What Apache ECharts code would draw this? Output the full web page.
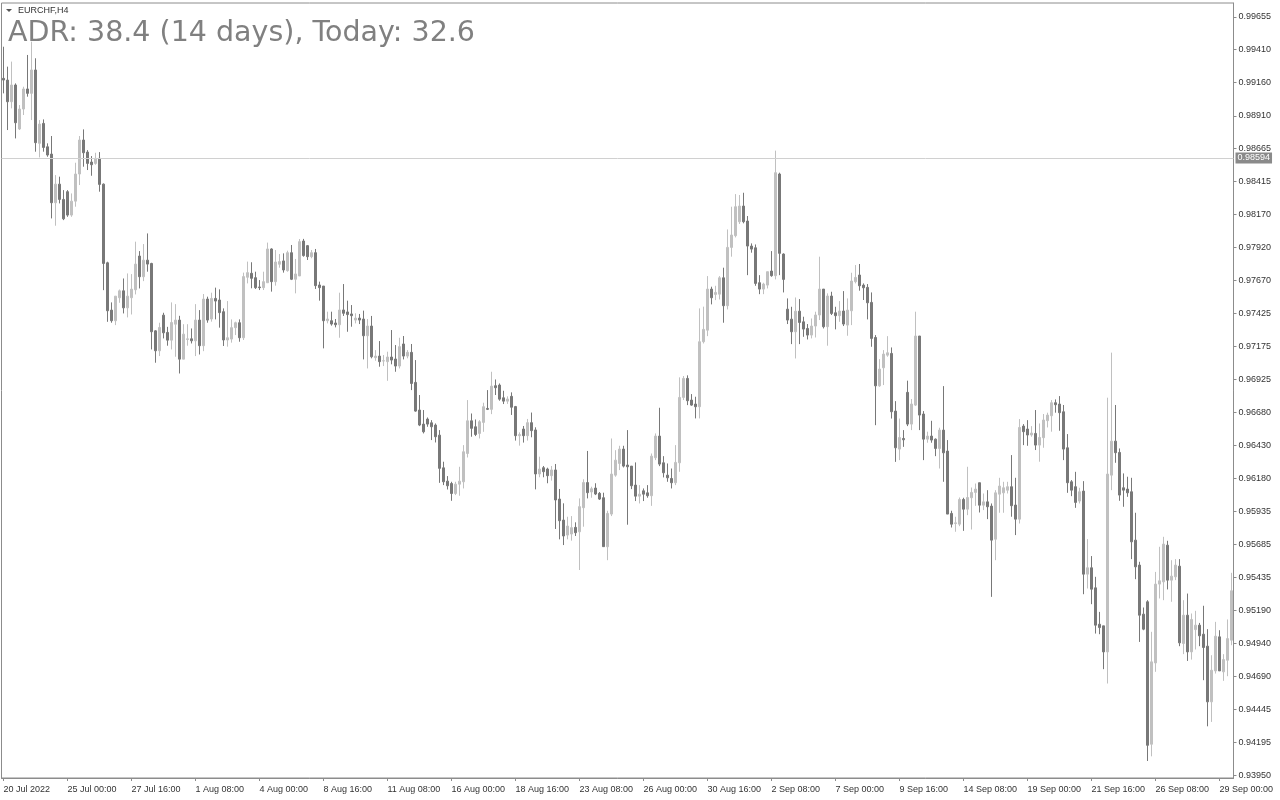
<!DOCTYPE html>
<html>
<head>
<meta charset="utf-8">
<script src="https://cdn.jsdelivr.net/npm/echarts@6/dist/echarts.min.js"></script>
<style>
html,body{margin:0;padding:0;background:#fff;}
#chart{width:1280px;height:800px;}
</style>
</head>
<body>
<div id="chart"></div>
<script>
const symbolName = 'EURCHF,H4';
const titleText = 'ADR: 38.4 (14 days), Today: 32.6';
const hLinePrice = 0.98594;

const xTickLabels = ['20 Jul 2022','25 Jul 00:00','27 Jul 16:00','1 Aug 08:00','4 Aug 00:00','8 Aug 16:00','11 Aug 08:00','16 Aug 00:00','18 Aug 16:00','23 Aug 08:00','26 Aug 00:00','30 Aug 16:00','2 Sep 08:00','7 Sep 00:00','9 Sep 16:00','14 Sep 08:00','19 Sep 00:00','21 Sep 16:00','26 Sep 08:00','29 Sep 00:00'];

const yTickValues = [0.99655,0.99410,0.99160,0.98910,0.98665,0.98415,0.98170,0.97920,0.97670,0.97425,0.97175,0.96925,0.96680,0.96430,0.96180,0.95935,0.95685,0.95435,0.95190,0.94940,0.94690,0.94445,0.94195,0.93950];

const opens = [
0.99193,0.99180,0.99017,0.99143,0.98812,0.98962,0.99113,0.99080,0.99256,0.98704,
0.98854,0.98678,0.98623,0.98257,0.98397,0.98282,0.98340,0.98164,0.98269,0.98473,
0.98729,0.98638,0.98563,0.98553,0.98591,0.98397,0.97805,0.97449,0.97369,0.97542,
0.97594,0.97466,0.97542,0.97602,0.97856,0.97700,0.97825,0.97800,0.97293,0.97143,
0.97411,0.97281,0.97223,0.97343,0.97374,0.97080,0.97228,0.97233,0.97218,0.97374,
0.97181,0.97532,0.97382,0.97537,0.97525,0.97437,0.97224,0.97231,0.97317,0.97354,
0.97241,0.97696,0.97726,0.97693,0.97623,0.97618,0.97655,0.97909,0.97663,0.97794,
0.97819,0.97746,0.97881,0.97681,0.97706,0.97969,0.97934,0.97851,0.97881,0.97638,
0.97630,0.97369,0.97369,0.97352,0.97339,0.97450,0.97435,0.97420,0.97374,0.97389,
0.97382,0.97256,0.97329,0.97091,0.97103,0.97066,0.97061,0.97096,0.97081,0.97028,
0.97194,0.97103,0.97131,0.96905,0.96697,0.96591,0.96629,0.96601,0.96584,0.96508,
0.96262,0.96162,0.96144,0.96069,0.96139,0.96157,0.96370,0.96616,0.96571,0.96521,
0.96604,0.96709,0.96702,0.96880,0.96885,0.96789,0.96764,0.96800,0.96723,0.96504,
0.96554,0.96504,0.96602,0.96547,0.96216,0.96263,0.96253,0.96203,0.96246,0.96027,
0.95869,0.95756,0.95764,0.95814,0.95781,0.95962,0.96151,0.96080,0.96110,0.96070,
0.96037,0.95668,0.95914,0.96207,0.96295,0.96403,0.96283,0.96275,0.96132,0.96049,
0.96089,0.96074,0.96052,0.96338,0.96501,0.96300,0.96207,0.96182,0.96150,0.96300,
0.96792,0.96935,0.96772,0.96742,0.96722,0.97211,0.97298,0.97607,0.97567,0.97569,
0.97692,0.97482,0.97921,0.98009,0.98114,0.98232,0.98119,0.97931,0.97918,0.97655,
0.97607,0.97637,0.97743,0.97708,0.98473,0.97871,0.97456,0.97381,0.97286,0.97441,
0.97361,0.97311,0.97261,0.97329,0.97412,0.97607,0.97324,0.97555,0.97429,0.97407,
0.97442,0.97336,0.97444,0.97663,0.97713,0.97637,0.97620,0.97507,0.97243,0.96879,
0.97015,0.97110,0.97123,0.96689,0.96403,0.96483,0.96830,0.96591,0.96734,0.97254,
0.96667,0.96478,0.96501,0.96478,0.96408,0.96546,0.96388,0.95919,0.95843,0.95838,
0.96024,0.95951,0.96037,0.96077,0.96150,0.95981,0.96006,0.95974,0.95725,0.96064,
0.96074,0.96094,0.96120,0.95982,0.95876,0.96576,0.96554,0.96509,0.96521,0.96433,
0.96489,0.96617,0.96654,0.96752,0.96742,0.96684,0.96413,0.96157,0.96120,0.96012,
0.96087,0.95462,0.95510,0.95359,0.95085,0.95073,0.94877,0.96207,0.96463,0.96378,
0.96112,0.96102,0.96082,0.95718,0.95530,0.95161,0.95254,0.94182,0.94794,0.95387,
0.95404,0.95680,0.95417,0.95442,0.95522,0.94940,0.95153,0.94877,0.95045,0.95078,
0.95010,0.94920,0.94501,0.94734,0.94990,0.94727,0.94814,0.94965
];

const highs = [
0.99431,0.99281,0.99319,0.99155,0.98992,0.99130,0.99369,0.99469,0.99344,0.98879,
0.98884,0.98704,0.98759,0.98465,0.98453,0.98352,0.98352,0.98327,0.98558,0.98759,
0.98809,0.98653,0.98608,0.98633,0.98638,0.98402,0.97813,0.97507,0.97554,0.97604,
0.97687,0.97725,0.97720,0.97964,0.97893,0.97946,0.98026,0.97805,0.97298,0.97354,
0.97429,0.97323,0.97507,0.97494,0.97406,0.97343,0.97343,0.97311,0.97494,0.97449,
0.97570,0.97550,0.97580,0.97618,0.97605,0.97462,0.97517,0.97379,0.97362,0.97379,
0.97731,0.97814,0.97809,0.97738,0.97675,0.97738,0.97957,0.97914,0.97901,0.97871,
0.97876,0.97896,0.97939,0.97834,0.97984,0.97985,0.97939,0.97901,0.97909,0.97663,
0.97630,0.97437,0.97437,0.97382,0.97580,0.97645,0.97520,0.97487,0.97425,0.97420,
0.97445,0.97382,0.97405,0.97148,0.97216,0.97111,0.97136,0.97299,0.97186,0.97241,
0.97254,0.97148,0.97194,0.97073,0.96810,0.96697,0.96641,0.96621,0.96596,0.96546,
0.96308,0.96200,0.96157,0.96157,0.96270,0.96433,0.96772,0.96671,0.96626,0.96621,
0.96752,0.96847,0.96985,0.96927,0.96897,0.96842,0.96800,0.96830,0.96728,0.96529,
0.96577,0.96630,0.96678,0.96567,0.96346,0.96276,0.96263,0.96276,0.96291,0.96103,
0.95995,0.95894,0.95899,0.95852,0.96032,0.96176,0.96389,0.96120,0.96146,0.96080,
0.96075,0.95939,0.96483,0.96395,0.96428,0.96428,0.96546,0.96275,0.96303,0.96132,
0.96107,0.96132,0.96370,0.96521,0.96714,0.96350,0.96295,0.96257,0.96433,0.96943,
0.96953,0.96958,0.96817,0.96797,0.97462,0.97475,0.97705,0.97625,0.97632,0.97705,
0.97768,0.98056,0.98227,0.98322,0.98315,0.98332,0.98157,0.97951,0.97943,0.97712,
0.97655,0.97738,0.97893,0.98649,0.98483,0.97876,0.97537,0.97474,0.97544,0.97532,
0.97399,0.97344,0.97386,0.97437,0.97851,0.97607,0.97575,0.97587,0.97474,0.97517,
0.97592,0.97537,0.97730,0.97788,0.97796,0.97650,0.97645,0.97582,0.97261,0.97080,
0.97148,0.97253,0.97168,0.96764,0.96633,0.96546,0.96918,0.96780,0.97437,0.97254,
0.96689,0.96534,0.96616,0.96483,0.96564,0.96877,0.96471,0.95939,0.95894,0.96039,
0.96037,0.96270,0.96114,0.96144,0.96150,0.96069,0.96094,0.95994,0.96094,0.96187,
0.96157,0.96157,0.96358,0.96187,0.96629,0.96591,0.96621,0.96576,0.96697,0.96596,
0.96667,0.96677,0.96772,0.96777,0.96802,0.96735,0.96516,0.96170,0.96232,0.96112,
0.96162,0.95726,0.95598,0.95442,0.95178,0.95073,0.96790,0.97129,0.96735,0.96408,
0.96220,0.96195,0.96187,0.95924,0.95555,0.95211,0.95266,0.95028,0.95479,0.95668,
0.95743,0.95713,0.95567,0.95575,0.95575,0.95266,0.95316,0.95166,0.95186,0.95095,
0.95224,0.95048,0.94852,0.95103,0.95040,0.94860,0.95121,0.95472
];

const lows = [
0.99080,0.98804,0.98967,0.98741,0.98804,0.98917,0.99055,0.98879,0.98641,0.98598,
0.98641,0.98603,0.98139,0.98084,0.98252,0.98126,0.98151,0.98151,0.98227,0.98390,
0.98528,0.98503,0.98460,0.98543,0.98340,0.97599,0.97361,0.97354,0.97336,0.97504,
0.97424,0.97394,0.97416,0.97567,0.97612,0.97667,0.97738,0.97153,0.97053,0.97103,
0.97236,0.97181,0.97153,0.97098,0.96972,0.97080,0.97181,0.97198,0.97103,0.97115,
0.97140,0.97354,0.97362,0.97379,0.97317,0.97179,0.97174,0.97204,0.97261,0.97211,
0.97224,0.97650,0.97613,0.97608,0.97600,0.97600,0.97655,0.97588,0.97633,0.97768,
0.97731,0.97738,0.97675,0.97575,0.97706,0.97851,0.97826,0.97839,0.97608,0.97520,
0.97161,0.97349,0.97332,0.97319,0.97241,0.97405,0.97286,0.97324,0.97349,0.97344,
0.97078,0.97010,0.97086,0.97068,0.97023,0.97028,0.96917,0.97041,0.96985,0.97010,
0.97078,0.97086,0.96847,0.96684,0.96576,0.96521,0.96571,0.96471,0.96453,0.96149,
0.96132,0.96099,0.96014,0.96057,0.96052,0.96107,0.96340,0.96496,0.96501,0.96483,
0.96533,0.96697,0.96666,0.96810,0.96767,0.96742,0.96743,0.96660,0.96467,0.96429,
0.96452,0.96467,0.96492,0.96100,0.96191,0.96191,0.96146,0.96166,0.95802,0.95724,
0.95681,0.95724,0.95714,0.95749,0.95493,0.95819,0.96032,0.96037,0.96057,0.96020,
0.95669,0.95567,0.95899,0.96195,0.96245,0.96265,0.95834,0.96102,0.96012,0.95994,
0.96012,0.96037,0.95976,0.96320,0.96275,0.96190,0.96157,0.96107,0.96132,0.96232,
0.96772,0.96734,0.96729,0.96634,0.96634,0.97198,0.97253,0.97492,0.97524,0.97529,
0.97354,0.97454,0.97851,0.97996,0.98097,0.98102,0.97712,0.97881,0.97632,0.97569,
0.97569,0.97612,0.97700,0.97680,0.97712,0.97582,0.97344,0.97193,0.97085,0.97193,
0.97248,0.97228,0.97236,0.97243,0.97374,0.97311,0.97181,0.97412,0.97304,0.97361,
0.97329,0.97256,0.97336,0.97650,0.97595,0.97525,0.97379,0.97173,0.96583,0.96872,
0.96885,0.97098,0.96633,0.96307,0.96320,0.96420,0.96576,0.96546,0.96727,0.96546,
0.96320,0.96451,0.96451,0.96350,0.96257,0.96157,0.95914,0.95813,0.95781,0.95823,
0.95788,0.95906,0.95798,0.95976,0.95926,0.95944,0.95876,0.95291,0.95567,0.95924,
0.95924,0.96069,0.95894,0.95756,0.95843,0.96433,0.96428,0.96496,0.96396,0.96308,
0.96413,0.96566,0.96534,0.96677,0.96541,0.96320,0.96074,0.96049,0.95961,0.95994,
0.95311,0.95354,0.95236,0.95015,0.95010,0.94747,0.94639,0.96094,0.96300,0.96014,
0.95969,0.96044,0.95575,0.95424,0.94952,0.95040,0.94056,0.94091,0.94727,0.95279,
0.95266,0.95347,0.95254,0.95417,0.94920,0.94860,0.94809,0.94819,0.94895,0.94920,
0.94664,0.94317,0.94350,0.94714,0.94734,0.94659,0.94694,0.94927
];

const closes = [
0.99180,0.99017,0.99143,0.98859,0.98962,0.99113,0.99080,0.99256,0.98709,0.98849,
0.98673,0.98616,0.98257,0.98397,0.98282,0.98136,0.98164,0.98269,0.98473,0.98729,
0.98633,0.98553,0.98543,0.98591,0.98395,0.97800,0.97444,0.97369,0.97554,0.97594,
0.97466,0.97554,0.97607,0.97795,0.97700,0.97825,0.97795,0.97286,0.97143,0.97318,
0.97278,0.97223,0.97356,0.97374,0.97080,0.97268,0.97233,0.97218,0.97374,0.97181,
0.97532,0.97374,0.97537,0.97517,0.97430,0.97224,0.97241,0.97317,0.97354,0.97241,
0.97701,0.97731,0.97688,0.97618,0.97618,0.97663,0.97909,0.97663,0.97811,0.97814,
0.97751,0.97881,0.97681,0.97721,0.97964,0.97859,0.97851,0.97881,0.97633,0.97618,
0.97369,0.97382,0.97344,0.97339,0.97450,0.97425,0.97415,0.97407,0.97389,0.97374,
0.97256,0.97329,0.97098,0.97103,0.97061,0.97068,0.97096,0.97073,0.97028,0.97174,
0.97103,0.97131,0.96897,0.96689,0.96584,0.96533,0.96591,0.96571,0.96496,0.96258,
0.96157,0.96127,0.96069,0.96139,0.96162,0.96383,0.96616,0.96559,0.96513,0.96609,
0.96722,0.96702,0.96877,0.96865,0.96779,0.96764,0.96780,0.96718,0.96504,0.96512,
0.96504,0.96602,0.96542,0.96216,0.96253,0.96233,0.96203,0.96246,0.96020,0.95864,
0.95749,0.95824,0.95812,0.95774,0.95970,0.96151,0.96075,0.96105,0.96065,0.96027,
0.95669,0.95919,0.96215,0.96320,0.96403,0.96275,0.96270,0.96127,0.96049,0.96064,
0.96064,0.96052,0.96350,0.96501,0.96290,0.96225,0.96187,0.96150,0.96303,0.96792,
0.96935,0.96767,0.96734,0.96722,0.97211,0.97304,0.97607,0.97542,0.97582,0.97692,
0.97482,0.97921,0.98014,0.98227,0.98232,0.98114,0.97931,0.97908,0.97650,0.97607,
0.97645,0.97738,0.97708,0.98483,0.97876,0.97680,0.97374,0.97286,0.97441,0.97356,
0.97306,0.97261,0.97329,0.97412,0.97607,0.97324,0.97555,0.97424,0.97407,0.97442,
0.97344,0.97449,0.97668,0.97695,0.97632,0.97617,0.97504,0.97236,0.96879,0.97005,
0.97118,0.97128,0.96684,0.96413,0.96490,0.96473,0.96591,0.96742,0.97254,0.96659,
0.96478,0.96501,0.96471,0.96408,0.96546,0.96375,0.95914,0.95838,0.95848,0.96024,
0.95951,0.96039,0.96077,0.96102,0.95981,0.96006,0.95969,0.95718,0.96074,0.96125,
0.96112,0.96120,0.95977,0.95876,0.96566,0.96534,0.96509,0.96524,0.96433,0.96491,
0.96622,0.96659,0.96752,0.96737,0.96677,0.96403,0.96150,0.96094,0.96002,0.96082,
0.95462,0.95510,0.95349,0.95078,0.95060,0.94877,0.96215,0.96463,0.96376,0.96057,
0.96094,0.96074,0.95705,0.95517,0.95153,0.95048,0.94174,0.94802,0.95387,0.95412,
0.95688,0.95417,0.95447,0.95530,0.94945,0.95153,0.94877,0.95121,0.95078,0.94998,
0.94910,0.94501,0.94739,0.94995,0.94734,0.94819,0.94977,0.95337
];

// H4 bar times, Mon-Fri, starting 20 Jul 2022 08:00
const MONTHS = ['Jan','Feb','Mar','Apr','May','Jun','Jul','Aug','Sep','Oct','Nov','Dec'];
const categories = [];
(function(){
  let t = Date.UTC(2022, 6, 20, 8);
  while (categories.length < opens.length) {
    const d = new Date(t);
    const wd = d.getUTCDay();
    if (wd !== 0 && wd !== 6) {
      const hh = String(d.getUTCHours()).padStart(2,'0');
      categories.push(d.getUTCDate() + ' ' + MONTHS[d.getUTCMonth()] + ' ' + hh + ':00');
    }
    t += 4 * 3600 * 1000;
  }
})();

const candleData = opens.map((o, i) => [o, closes[i], lows[i], highs[i]]);

const BULL = '#c0c0c0';
const BEAR = '#787878';
const FRAME = '#8c8c8c';

const chart = echarts.init(document.getElementById('chart'), null, {renderer: 'canvas'});
chart.setOption({
  animation: false,
  backgroundColor: '#ffffff',
  grid: {
    left: 1.5, top: 3, right: 46.5, bottom: 22,
    show: true, borderColor: FRAME, borderWidth: 1, backgroundColor: '#ffffff'
  },
  xAxis: {
    type: 'category',
    data: categories,
    boundaryGap: true,
    axisLine: {show: true, lineStyle: {color: FRAME, width: 1}},
    axisTick: {show: true, alignWithLabel: true, length: 3, lineStyle: {color: FRAME},
      interval: (idx) => idx % 16 === 0},
    axisLabel: {
      show: true,
      interval: (idx) => idx % 16 === 0,
      formatter: (val, idx) => xTickLabels[Math.round(idx / 16)] || '',
      align: 'left',
      margin: 7,
      fontSize: 9,
      fontFamily: 'Liberation Sans',
      color: '#333333',
      hideOverlap: false,
      showMinLabel: true,
      showMaxLabel: true
    },
    splitLine: {show: false}
  },
  yAxis: {
    type: 'value',
    position: 'right',
    min: 0.93928,
    max: 0.99760,
    scale: true,
    axisLine: {show: true, lineStyle: {color: FRAME, width: 1}},
    axisTick: {show: true, length: 3, lineStyle: {color: FRAME}, customValues: yTickValues},
    axisLabel: {
      show: true,
      customValues: yTickValues,
      formatter: (v) => v.toFixed(5),
      margin: 5,
      fontSize: 9,
      fontFamily: 'Liberation Sans',
      color: '#333333',
      hideOverlap: false
    },
    splitLine: {show: false}
  },
  graphic: [
    {type: 'text', x: 8, y: 34, silent: true,
     style: {text: titleText, fontSize: 28.5, fontFamily: 'DejaVu Sans', fill: '#808080',
             align: 'left', verticalAlign: 'middle'}},
    {type: 'polygon', silent: true, shape: {points: [[6,9],[12,9],[9,12]]}, style: {fill: '#555555'}},
    {type: 'text', x: 18, y: 11, silent: true,
     style: {text: symbolName, fontSize: 9, fontFamily: 'Liberation Sans', fill: '#333333',
             align: 'left', verticalAlign: 'middle'}}
  ],
  series: [{
    type: 'candlestick',
    data: candleData,
    barWidth: 2,
    large: false,
    itemStyle: {
      color: BULL, color0: BEAR,
      borderColor: BULL, borderColor0: BEAR,
      borderWidth: 1
    },
    markLine: {
      silent: true,
      precision: 5,
      symbol: ['none', 'none'],
      animation: false,
      lineStyle: {color: '#d0d0d0', type: 'solid', width: 1},
      label: {
        show: true, position: 'end', distance: 2,
        formatter: () => hLinePrice.toFixed(5),
        backgroundColor: '#8a8a8a', color: '#ffffff',
        fontSize: 9, fontFamily: 'Liberation Sans', padding: [1, 2, 1, 2]
      },
      emphasis: {disabled: true},
      data: [{yAxis: hLinePrice}]
    }
  }]
});
</script>
</body>
</html>
